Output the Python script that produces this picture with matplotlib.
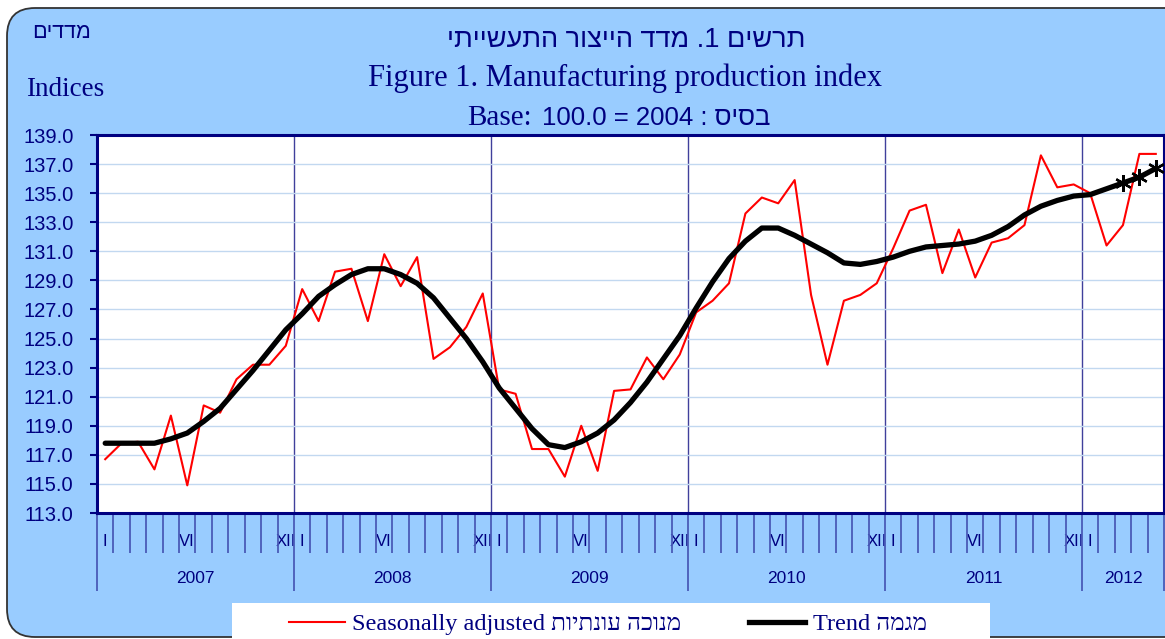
import matplotlib
matplotlib.use('Agg')
import matplotlib.pyplot as plt
import numpy as np
from matplotlib.patches import FancyBboxPatch, Rectangle
from matplotlib.lines import Line2D

# monthly values, Jan 2007 .. May 2012
seasonally_adjusted = [
    116.7, 117.8, 117.9, 116.0, 119.7, 114.9, 120.4, 119.9, 122.2, 123.2, 123.2, 124.5,  # 2007
    128.4, 126.2, 129.6, 129.8, 126.2, 130.8, 128.6, 130.6, 123.6, 124.4, 125.8, 128.1,  # 2008
    121.5, 121.2, 117.4, 117.4, 115.5, 119.0, 115.9, 121.4, 121.5, 123.7, 122.2, 123.9,  # 2009
    126.8, 127.6, 128.8, 133.6, 134.7, 134.3, 135.9, 128.0, 123.2, 127.6, 128.0, 128.8,  # 2010
    131.2, 133.8, 134.2, 129.5, 132.5, 129.2, 131.6, 131.9, 132.8, 137.6, 135.4, 135.6,  # 2011
    135.0, 131.4, 132.8, 137.7, 137.7,                                                   # 2012
]
trend = [
    117.8, 117.8, 117.8, 117.8, 118.1, 118.5, 119.3, 120.2, 121.5, 122.8, 124.2, 125.6,
    126.7, 127.9, 128.7, 129.4, 129.8, 129.8, 129.4, 128.8, 127.8, 126.4, 125.0, 123.4,
    121.6, 120.2, 118.8, 117.7, 117.5, 117.9, 118.5, 119.4, 120.6, 122.0, 123.6, 125.2,
    127.1, 128.9, 130.5, 131.7, 132.6, 132.6, 132.1, 131.5, 130.9, 130.2, 130.1, 130.3,
    130.6, 131.0, 131.3, 131.4, 131.5, 131.7, 132.1, 132.7, 133.5, 134.1, 134.5, 134.8,
    134.9, 135.3, 135.7, 136.1, 136.7,
]
n_provisional = 3  # last trend points marked with asterisks
years = ['2007', '2008', '2009', '2010', '2011', '2012']
months_in_year = [12, 12, 12, 12, 12, 5]
month_marks = {0: 'I', 5: 'VI', 11: 'XII'}
y_ticks = np.arange(113, 140, 2)


def vis(s):
    # matplotlib has no bidi support: give Hebrew in visual order
    return s[::-1]


navy = '#000080'
W, H = 1165, 639
fig = plt.figure(figsize=(W / 100, H / 100), dpi=100)
fig.patch.set_facecolor('white')

# background panel in pixel coordinates
bg = fig.add_axes([0, 0, 1, 1], zorder=0)
bg.set_xlim(0, W)
bg.set_ylim(H, 0)
bg.axis('off')
bg.add_patch(FancyBboxPatch((7, 8), 1200, 629, boxstyle='round,pad=0,rounding_size=28',
                            fc='#99CCFF', ec='#333333', lw=1.3))
bg.add_patch(Rectangle((232, 603), 758, 60, fc='white', ec='none'))

heb_sans = ['Liberation Sans', 'DejaVu Sans']
serif = ['Liberation Serif', 'DejaVu Serif']
bg.text(626, 40, vis('מדד הייצור התעשייתי') + ' .1 ' + vis('תרשים'),
        ha='center', va='center', fontsize=19.5, color=navy, family=heb_sans)
bg.text(625, 78, 'Figure 1. Manufacturing production index',
        ha='center', va='center', fontsize=22, color=navy, family=serif)
bg.text(532, 118, 'Base:', ha='right', va='center', fontsize=21, color=navy, family=serif)
bg.text(542, 118, '100.0 = 2004 : ' + vis('בסיס'), ha='left', va='center',
        fontsize=18.5, color=navy, family=heb_sans)
bg.text(62, 32, vis('מדדים'), ha='center', va='center', fontsize=15.5,
        color=navy, family=heb_sans)
bg.text(65, 89, 'Indices', ha='center', va='center', fontsize=19.5,
        color=navy, family=serif)

# main plot
ax = fig.add_axes([97 / W, (H - 513) / H, (1164 - 97) / W, 378 / H], zorder=2)
n = len(seasonally_adjusted)
x = np.arange(n) + 0.5
ax.plot(x, seasonally_adjusted, color='red', lw=1.5, zorder=3)
ax.plot(x, trend, color='black', lw=3.8, solid_capstyle='round', zorder=4)
ax.plot(x[-n_provisional:], trend[-n_provisional:], ls='none', marker=(6, 2, 0),
        ms=12, mew=1.7, color='black', zorder=5)

ax.set_xlim(0, n)
ax.set_ylim(113, 139)
ax.set_yticks(y_ticks)
ax.set_yticklabels([f'{v:.1f}' for v in y_ticks], family=heb_sans, fontsize=14.5, color=navy)
ax.tick_params(axis='y', direction='out', length=5, width=1.5, color=navy, pad=12)
ax.yaxis.grid(True, color='#C2D8F0', lw=1)

bounds = np.concatenate([[0], np.cumsum(months_in_year)])
ax.set_xticks(bounds)
ax.set_xticklabels([])
ax.set_xticks(np.arange(n + 1), minor=True)
ax.tick_params(axis='x', which='major', direction='out', length=56, width=1.3, color='#4a5ab8')
ax.tick_params(axis='x', which='minor', direction='out', length=29, width=1.3, color='#4a5ab8')
ax.xaxis.grid(True, which='major', color='#40409c', lw=1)
ax.set_axisbelow(True)
for side in ['left', 'top', 'bottom']:
    ax.spines[side].set_color(navy)
    ax.spines[side].set_linewidth(2.2)
ax.spines['right'].set_color(navy)
ax.spines['right'].set_linewidth(1.5)

# month and year labels
sec = ax.secondary_xaxis('bottom')
sec.spines['bottom'].set_visible(False)
pos, labs = [], []
for y0, m in zip(bounds[:-1], months_in_year):
    for k, lab in month_marks.items():
        if k < m:
            pos.append(y0 + k + 0.5)
            labs.append(lab)
sec.set_xticks(pos)
sec.set_xticklabels(labs, family=heb_sans, fontsize=12, color=navy)
centers = (bounds[:-1] + bounds[1:]) / 2
sec.set_xticks(centers, minor=True)
sec.set_xticklabels(years, minor=True, family=heb_sans, fontsize=12.5, color=navy)
sec.tick_params(axis='x', which='major', length=0, pad=15)
sec.tick_params(axis='x', which='minor', length=0, pad=41.5)

# legend
handles = [Line2D([], [], color='red', lw=1.5), Line2D([], [], color='black', lw=3.8)]
labels = ['Seasonally adjusted ' + vis('מנוכה עונתיות'), 'Trend ' + vis('מגמה')]
fig.legend(handles, labels, loc='center left', bbox_to_anchor=(289 / W, 1 - 624 / H),
           ncol=2, frameon=False, borderpad=0, borderaxespad=0, handlelength=2.3,
           handletextpad=0.3, columnspacing=2.8, labelcolor=navy,
           prop={'family': serif, 'size': 17.5})

fig.savefig('out.png', dpi=100)
